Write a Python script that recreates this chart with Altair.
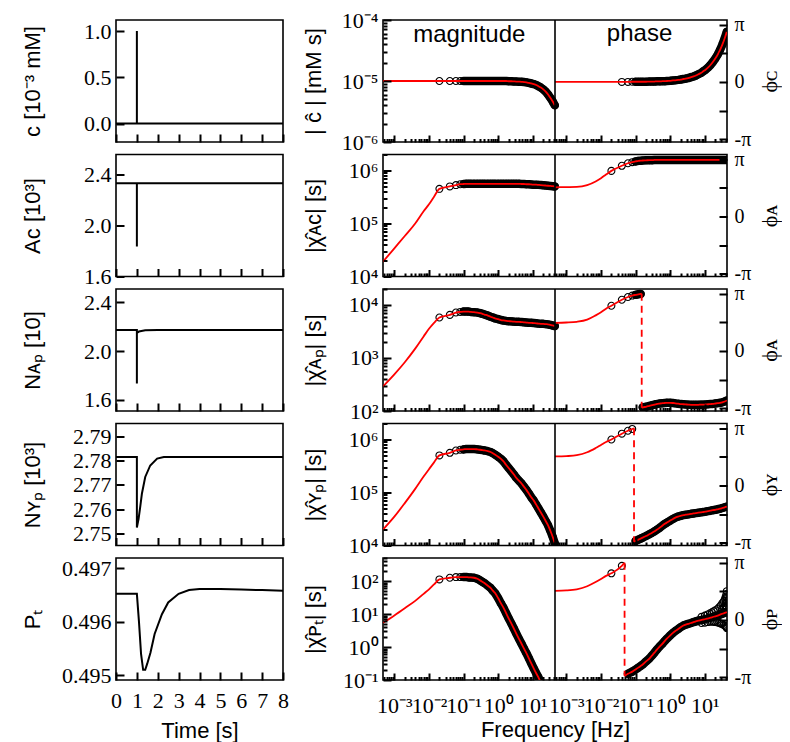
import math
import altair as alt
import pandas as pd

PI = math.pi

# ---------------- layout constants ----------------
W_T, W_F, H = 167, 344, 122
ROW_GAP = 12.5
F_MIN, F_MAX = 0.00047, 43.6
R = F_MAX / F_MIN          # shift that places the phase half right of the magnitude half
PH_DOM = [-3.3, 3.4]
BAND_FROM = 0.1            # above this frequency the sample circles merge into a band

# ---------------- time-domain data ----------------
T_C = [0, 1, 1, 1, 8]
V_C = [0.0, 0.0, 1.0, 0.0, 0.0]
T_AC = [0, 1, 1, 1, 8]
V_AC = [2.33, 2.33, 1.835, 2.33, 2.33]
T_NAP = [0, 1, 1, 1.0, 1.1, 1.4, 2.0, 8]
V_NAP = [2.173, 2.173, 1.733, 2.150, 2.160, 2.170, 2.173, 2.173]
T_NYP = [0, 1, 1, 1.08, 1.16, 1.24, 1.40, 1.64, 1.97, 2.29, 3, 8]
V_NYP = [2.7815, 2.7815, 2.7526, 2.756, 2.761, 2.7664, 2.7733, 2.778, 2.7808, 2.7815, 2.7815, 2.7815]
T_PT = [0, 1.0, 1.1, 1.2, 1.3, 1.4, 1.5, 1.65, 1.85, 2.2, 2.5, 3.0, 3.5, 4.0, 5, 6, 7, 8]
V_PT = [0.49652, 0.49652, 0.49600, 0.49540, 0.49510, 0.49510, 0.49522, 0.49542, 0.49577,
        0.49614, 0.49636, 0.49652, 0.49659, 0.49661, 0.49661, 0.49660, 0.49659, 0.49658]

TIME_TITLES = ["c  [10⁻³ mM]", "Aᴄ [10³]", "Nᴀₚ [10]", "Nʏₚ [10³]", "Pₜ"]
TIME_DOMAINS = [[-0.2, 1.12], [1.6, 2.555], [1.507, 2.51], [2.7452, 2.7952], [0.49491, 0.49719]]
TIME_YTICKS = [[0.0, 0.5, 1.0], [1.6, 2.0, 2.4], [1.6, 2.0, 2.4],
               [2.75, 2.76, 2.77, 2.78, 2.79], [0.495, 0.496, 0.497]]
TIME_FMT = [".1f", ".1f", ".1f", ".2f", ".3f"]
TIME_TICKS_X = [0, 1, 2, 3, 4, 5, 6, 7, 8]

# ---------------- frequency-domain data ----------------
F_LOW = [0.00047, 0.001, 0.002, 0.004, 0.007, 0.01, 0.014]
F_PTS = [0.02, 0.04, 0.06, 0.08, 0.1, 0.12, 0.14, 0.16, 0.2, 0.25, 0.3, 0.35, 0.4, 0.5,
         0.6, 0.7, 0.8, 1.0, 1.2, 1.4, 1.7, 2.0, 2.4, 2.8, 3.3, 4.0, 4.7, 5.5, 6.5, 7.7,
         9.0, 10.5, 12.5, 14.5, 17, 20, 23.5, 27.5, 32, 37.5, 43]

MAG_C_LOW = [1.0e-5, 1.0e-5, 1.0e-5, 1.0e-5, 1.0e-5, 1.0e-5, 1.0e-5]
MAG_C = [1.0e-5, 1.0e-5, 1.0e-5, 1.0e-5, 1.0e-5, 1.0e-5, 1.0e-5, 1.0e-5, 1.0e-5, 1.0e-5,
         1.0e-5, 1.0e-5, 1.0e-5, 1.0e-5, 1.0e-5, 1.0e-5, 1.0e-5, 1.0e-5, 1.0e-5, 1.0e-5,
         1.0e-5, 9.9e-6, 9.9e-6, 9.85e-6, 9.8e-6, 9.75e-6, 9.7e-6, 9.6e-6, 9.5e-6, 9.3e-6,
         9.1e-6, 8.9e-6, 8.6e-6, 8.2e-6, 7.8e-6, 7.3e-6, 6.7e-6, 6.0e-6, 5.3e-6, 4.6e-6, 4.0e-6]
PH_C_LOW = [0.0, 0.0, 0.0, 0.0, 0.0, 0.0, 0.0]
PH_C = [0.0, 0.0, 0.0, 0.01, 0.01, 0.01, 0.01, 0.01, 0.01, 0.02, 0.02, 0.02, 0.03, 0.03,
        0.04, 0.04, 0.05, 0.06, 0.08, 0.09, 0.11, 0.13, 0.16, 0.18, 0.21, 0.26, 0.30, 0.35,
        0.42, 0.49, 0.58, 0.67, 0.80, 0.93, 1.09, 1.28, 1.50, 1.76, 2.05, 2.40, 2.75]

MAG_AC_LOW = [1.9e4, 3.4e4, 5.8e4, 1.0e5, 1.7e5, 2.3e5, 3.2e5]
MAG_AC = [4.5e5, 5.0e5, 5.3e5, 5.5e5, 5.55e5, 5.6e5, 5.6e5, 5.6e5, 5.6e5, 5.6e5, 5.6e5,
          5.6e5, 5.6e5, 5.6e5, 5.6e5, 5.6e5, 5.6e5, 5.6e5, 5.6e5, 5.6e5, 5.6e5, 5.6e5,
          5.6e5, 5.6e5, 5.6e5, 5.6e5, 5.55e5, 5.55e5, 5.5e5, 5.5e5, 5.45e5, 5.4e5, 5.4e5,
          5.35e5, 5.3e5, 5.25e5, 5.2e5, 5.15e5, 5.1e5, 5.05e5, 5.0e5]
PH_AC_LOW = [1.60, 1.61, 1.62, 1.72, 1.92, 2.10, 2.30]
PH_AC = [2.50, 2.78, 2.92, 2.98, 3.02, 3.05, 3.06, 3.07, 3.08, 3.09, 3.09, 3.10, 3.10, 3.10,
         3.10, 3.10, 3.10, 3.10, 3.10, 3.10, 3.10, 3.10, 3.10, 3.10, 3.10, 3.10, 3.10, 3.10,
         3.10, 3.10, 3.10, 3.10, 3.10, 3.10, 3.10, 3.10, 3.10, 3.10, 3.10, 3.10, 3.10]

MAG_AP_LOW = [290, 490, 830, 1500, 2550, 3550, 4600]
MAG_AP = [5800, 6500, 7200, 7400, 7500, 7500, 7500, 7400, 7300, 7200, 7000, 6800, 6600, 6300,
          6000, 5800, 5600, 5400, 5200, 5100, 5000, 4950, 4900, 4850, 4800, 4800, 4750, 4700,
          4650, 4600, 4600, 4550, 4500, 4450, 4400, 4400, 4350, 4300, 4200, 4100, 4000]
PH_AP_LOW = [1.54, 1.56, 1.60, 1.72, 1.95, 2.12, 2.32]
PH_AP = [2.48, 2.81, 2.96, 3.04, 3.08, 3.11, 3.13, -3.10, -3.07, -3.02, -2.98, -2.95, -2.92,
         -2.89, -2.87, -2.86, -2.85, -2.85, -2.86, -2.88, -2.90, -2.92, -2.93, -2.94, -2.95,
         -2.96, -2.96, -2.96, -2.96, -2.95, -2.95, -2.94, -2.93, -2.92, -2.91, -2.89, -2.87,
         -2.85, -2.82, -2.78, -2.72]

MAG_YP_LOW = [2.0e4, 3.5e4, 6.3e4, 1.17e5, 2.0e5, 2.75e5, 3.7e5]
MAG_YP = [5.0e5, 5.6e5, 6.2e5, 6.4e5, 6.5e5, 6.6e5, 6.6e5, 6.6e5, 6.6e5, 6.5e5, 6.4e5, 6.3e5,
          6.2e5, 6.0e5, 5.8e5, 5.5e5, 5.2e5, 4.7e5, 4.3e5, 3.9e5, 3.3e5, 2.9e5, 2.5e5, 2.2e5,
          1.9e5, 1.66e5, 1.48e5, 1.29e5, 1.12e5, 9.5e4, 8.1e4, 7.1e4, 5.9e4, 5.0e4, 4.2e4,
          3.5e4, 2.9e4, 2.4e4, 1.9e4, 1.45e4, 1.1e4]
PH_YP_LOW = [1.59, 1.61, 1.66, 1.82, 2.05, 2.22, 2.38]
PH_YP = [2.52, 2.84, 3.00, 3.10, -3.05, -2.98, -2.92, -2.87, -2.78, -2.68, -2.60, -2.52,
         -2.45, -2.32, -2.20, -2.11, -2.04, -1.93, -1.84, -1.77, -1.71, -1.67, -1.63, -1.61,
         -1.59, -1.56, -1.54, -1.52, -1.50, -1.48, -1.46, -1.44, -1.41, -1.39, -1.36, -1.34,
         -1.31, -1.28, -1.24, -1.20, -1.17]

MAG_PT_LOW = [5.4, 9.1, 15, 25, 41, 56, 79]
MAG_PT = [112, 126, 132, 132, 132, 132, 129, 129, 126, 117, 105, 95, 87, 72, 62, 51, 44,
          30, 21, 16, 10.5, 7.4, 5.1, 3.7, 2.6, 1.74, 1.26, 0.91, 0.65, 0.45, 0.32, 0.23,
          0.16, 0.12, 0.083, 0.059, 0.042, 0.030, 0.022, 0.016, 0.012]
PH_PT_LOW = [1.60, 1.62, 1.68, 1.85, 2.08, 2.25, 2.42]
PH_PT = [2.56, 2.97, -2.96, -2.84, -2.72, -2.62, -2.53, -2.45, -2.28, -2.12, -1.95, -1.80,
         -1.66, -1.45, -1.30, -1.15, -1.03, -0.85, -0.71, -0.61, -0.50, -0.40, -0.31, -0.26,
         -0.22, -0.17, -0.12, -0.08, -0.04, -0.01, 0.02, 0.05, 0.09, 0.12, 0.16, 0.20, 0.24,
         0.29, 0.34, 0.39, 0.43]
PT_NOISE_F = [8, 8, 10, 10, 12, 12, 14, 14, 16, 16, 18, 18, 20, 20, 23, 23, 26, 26, 29, 29,
              32, 32, 32, 35, 35, 35, 38, 38, 38, 40, 40, 40, 40, 42, 42, 42, 42, 43, 43, 43,
              43, 43]
PT_NOISE_PH = [0.17, -0.17, 0.24, -0.15, 0.30, -0.12, 0.36, -0.10, 0.42, -0.10, 0.48, -0.10,
               0.53, -0.12, 0.60, -0.14, 0.70, -0.17, 0.80, -0.20, 0.92, 0.62, -0.24, 1.02,
               0.70, -0.28, 1.16, 0.80, -0.32, 1.28, 0.95, 0.65, -0.36, 1.42, 1.08, 0.75,
               -0.40, 1.58, 1.25, 0.95, 0.70, -0.45]

# phase wrap (frequency, phase just before, phase just after); None = no wrap
WRAPS = [None, None, (0.15, 3.14, -3.12), (0.09, 3.14, -3.10), (0.048, 3.14, -3.08)]
# index of the first phase sample drawn as a circle in each row
PH_FIRST = [1, 0, 0, 0, 0]

MAG_LOW = [MAG_C_LOW, MAG_AC_LOW, MAG_AP_LOW, MAG_YP_LOW, MAG_PT_LOW]
MAG = [MAG_C, MAG_AC, MAG_AP, MAG_YP, MAG_PT]
PH_LOW = [PH_C_LOW, PH_AC_LOW, PH_AP_LOW, PH_YP_LOW, PH_PT_LOW]
PH = [PH_C, PH_AC, PH_AP, PH_YP, PH_PT]
MAG_DOMAINS = [[1e-6, 1e-4], [1e4, 2e6], [1e2, 2e4], [1e4, 2e6], [0.1, 500]]
MAG_TITLES = ["| ĉ | [mM s]", "|χ̂ᴀᴄ| [s]", "|χ̂ᴀₚ| [s]", "|χ̂ʏₚ| [s]", "|χ̂ᴘₜ| [s]"]
PH_TITLES = ["ϕᴄ", "ϕᴀ", "ϕᴀ", "ϕʏ", "ϕᴘ"]
PH_TICKS = [-PI, -PI / 2, 0, PI / 2, PI]

NOTE_TEXT = ["magnitude", "phase"]
NOTE_F = [0.146, 0.13]
NOTE_V = [5.6e-5, 2.62]

# ---------------- axis helpers ----------------
SUP = "['⁻⁶','⁻⁵','⁻⁴','⁻³','⁻²','⁻¹','⁰','¹','²','³','⁴','⁵','⁶']"
LOG_LABEL = f"'10' + {SUP}[round(log(datum.value)/LN10) + 6]"
X_LABEL = (f"'10' + {SUP}[round(log(datum.value > {F_MAX * 1.001} ? datum.value / {R} : "
           f"datum.value)/LN10) + 6]")
PH_LABEL = ("abs(datum.value - PI) < 0.01 ? 'π' : (abs(datum.value + PI) < 0.01 ? '-π' : "
            "(abs(datum.value) < 0.01 ? '0' : ''))")


def log_values(lo, hi, major):
    out = []
    e = math.floor(math.log10(lo)) - 1
    while 10.0 ** e <= hi * 1.001:
        for m in range(1, 10):
            if (m == 1) != major:
                continue
            v = float(f"{m}e{e}")
            if lo * 0.999 <= v <= hi * 1.001:
                out.append(v)
        e += 1
    return out


X_MAJOR = log_values(F_MIN, F_MAX, True) + [v * R for v in log_values(F_MIN, F_MAX, True)]
X_MINOR = log_values(F_MIN, F_MAX, False) + [v * R for v in log_values(F_MIN, F_MAX, False)]


def inward(n):
    # ticks of length n drawn inside the frame: move the axis in by n, ticks point out to it
    return dict(offset=-n, tickSize=n, ticks=True, tickColor="black", tickWidth=2,
                tickOpacity=1, zindex=2)


def time_panel(k, bottom):
    df = pd.DataFrame({"t": [T_C, T_AC, T_NAP, T_NYP, T_PT][k],
                       "v": [V_C, V_AC, V_NAP, V_NYP, V_PT][k]})
    df["i"] = range(len(df))
    xkw = dict(values=TIME_TICKS_X, labels=bottom, format="d", labelPadding=10, **inward(8))
    if bottom:
        xkw.update(title="Time [s]", titleX=W_T / 2, titleY=58, titleBaseline="middle",
                   titleAlign="center")
    else:
        xkw["title"] = None
    yaxis = alt.Axis(values=TIME_YTICKS[k], format=TIME_FMT[k], title=TIME_TITLES[k],
                     titleX=-92, titleY=H / 2, titleBaseline="middle", titleAlign="center",
                     labelPadding=5, **inward(8))
    return alt.Chart(df).mark_line(color="black", strokeWidth=2, clip=True).encode(
        x=alt.X("t:Q", scale=alt.Scale(domain=[0, 8], nice=False, zero=False),
                axis=alt.Axis(**xkw)),
        y=alt.Y("v:Q", scale=alt.Scale(domain=TIME_DOMAINS[k], nice=False, zero=False),
                axis=yaxis),
        order="i:Q",
    ).properties(width=W_T, height=H)


def freq_panel(k, bottom):
    lo, hi = MAG_DOMAINS[k]
    xscale = alt.Scale(type="log", domain=[F_MIN, F_MAX * R], nice=False)
    mscale = alt.Scale(type="log", domain=[lo, hi], nice=False)
    pscale = alt.Scale(domain=PH_DOM, nice=False, zero=False)

    xkw = dict(orient="bottom", values=X_MAJOR, labels=bottom, labelPadding=15, **inward(7))
    if bottom:
        xkw.update(labelExpr=X_LABEL, title="Frequency [Hz]", titleY=56,
                   titleBaseline="middle")
    else:
        xkw["title"] = None
    x_major = alt.X("f:Q", scale=xscale, axis=alt.Axis(**xkw))
    x_minor = alt.X("f:Q", scale=xscale,
                    axis=alt.Axis(orient="bottom", values=X_MINOR, labels=False, title=None,
                                  **inward(3.5)))
    x_none = alt.X("f:Q", scale=xscale, axis=None)
    xp_none = alt.X("fx:Q", scale=xscale, axis=None)

    y_m = alt.Y("m:Q", scale=mscale,
                axis=alt.Axis(orient="left", values=log_values(lo, hi, True),
                              labelExpr=LOG_LABEL, title=MAG_TITLES[k], titleX=-78,
                              titleY=H / 2, titleBaseline="middle", titleAlign="center",
                              labelPadding=5, **inward(8)))
    y_m_minor = alt.Y("m:Q", scale=mscale,
                      axis=alt.Axis(orient="left", values=log_values(lo, hi, False),
                                    labels=False, title=None, **inward(4)))
    y_m_none = alt.Y("m:Q", scale=mscale, axis=None)
    y_p = alt.Y("p:Q", scale=pscale,
                axis=alt.Axis(orient="right", values=PH_TICKS, labelExpr=PH_LABEL,
                              title=PH_TITLES[k], titleAngle=270, titleBaseline="top",
                              titleAlign="center", titlePadding=9,
                              titleFont="Liberation Serif", titleFontSize=22,
                              labelFontSize=20, labelPadding=7, **inward(8)))
    y_p_none = alt.Y("p:Q", scale=pscale, axis=None)
    shift = f"datum.f * {R}"

    circle = dict(shape="circle", filled=False, color="black", size=48, strokeWidth=1.1,
                  opacity=1, clip=True)
    red = dict(color="#ff0000", strokeWidth=1.8, clip=True)
    band = dict(color="black", strokeWidth=8.5, strokeCap="round", strokeJoin="round",
                clip=True)

    # magnitude half
    m_line_df = pd.DataFrame({"f": F_LOW + F_PTS, "m": MAG_LOW[k] + MAG[k]})
    m_pts_df = pd.DataFrame({"f": F_PTS, "m": MAG[k]})
    m_band_df = m_pts_df[m_pts_df["f"] >= BAND_FROM]
    m_band = alt.Chart(m_band_df).mark_line(**band).encode(x=x_none, y=y_m_none)
    m_pts = alt.Chart(m_pts_df).mark_point(**circle).encode(x=x_major, y=y_m)
    m_line = alt.Chart(m_line_df).mark_line(interpolate="monotone", **red).encode(
        x=x_none, y=y_m_none)
    minor = alt.Chart(m_pts_df).mark_point(opacity=0).encode(x=x_minor, y=y_m_minor)

    # phase half
    wrap = WRAPS[k]

    def branch(f):
        return 0 if (wrap is None or f < wrap[0]) else 1

    rows = [(f, p, branch(f)) for f, p in zip(F_LOW + F_PTS, PH_LOW[k] + PH[k])]
    if wrap is not None:
        rows.append((wrap[0], wrap[1], 0))
        rows.append((wrap[0], wrap[2], 1))
    p_line_df = pd.DataFrame(rows, columns=["f", "p", "b"]).sort_values(["b", "f"])
    first = PH_FIRST[k]
    pts_f = list(F_PTS[first:])
    pts_p = list(PH[k][first:])
    p_band_df = pd.DataFrame({"f": pts_f, "p": pts_p})
    p_band_df["b"] = [branch(f) for f in pts_f]
    p_band_df = p_band_df[(p_band_df["f"] >= BAND_FROM) | (p_band_df["b"] == 1)]
    if k == 4:
        pts_f += PT_NOISE_F
        pts_p += PT_NOISE_PH
    p_pts_df = pd.DataFrame({"f": pts_f, "p": pts_p})
    p_band = alt.Chart(p_band_df).transform_calculate(fx=shift).mark_line(**band).encode(
        x=xp_none, y=y_p_none, detail="b:N")
    p_pts = alt.Chart(p_pts_df).transform_calculate(fx=shift).mark_point(**circle).encode(
        x=xp_none, y=y_p)
    p_line = alt.Chart(p_line_df).transform_calculate(fx=shift).mark_line(
        interpolate="monotone", **red).encode(x=xp_none, y=y_p_none, detail="b:N")

    divider = alt.Chart(pd.DataFrame({"f": [F_MAX]})).mark_rule(
        color="black", strokeWidth=1.6).encode(x=x_none)

    layers = [m_band, m_pts, m_line, minor, p_band, p_pts, p_line]
    if wrap is not None:
        dash_df = pd.DataFrame({"f": [wrap[0], wrap[0]], "p": [wrap[1], wrap[2]]})
        layers.append(alt.Chart(dash_df).transform_calculate(fx=shift).mark_line(
            strokeDash=[7, 5], **red).encode(x=xp_none, y=y_p_none))
    layers.append(divider)
    if k == 0:
        n1 = pd.DataFrame({"f": NOTE_F[:1], "m": NOTE_V[:1], "txt": NOTE_TEXT[:1]})
        n2 = pd.DataFrame({"f": NOTE_F[1:], "p": NOTE_V[1:], "txt": NOTE_TEXT[1:]})
        txt = dict(font="Liberation Sans", fontSize=24, color="black")
        layers.append(alt.Chart(n1).mark_text(**txt).encode(x=x_none, y=y_m_none,
                                                            text="txt:N"))
        layers.append(alt.Chart(n2).transform_calculate(fx=shift).mark_text(**txt).encode(
            x=xp_none, y=y_p_none, text="txt:N"))
    return alt.layer(*layers).resolve_scale(y="independent").resolve_axis(
        x="independent", y="independent").properties(width=W_F, height=H)


cells = []
for k in range(5):
    cells.append(time_panel(k, k == 4))
    cells.append(freq_panel(k, k == 4))

chart = alt.concat(*cells, columns=2, spacing={"row": ROW_GAP, "column": 100},
                   bounds="flush").properties(
    padding={"left": 12, "top": 0, "right": 0, "bottom": 0}
).configure_view(
    stroke="black", strokeWidth=1.6
).configure_axis(
    domain=False, grid=False, ticks=True, tickColor="black", tickWidth=2,
    labelFont="Liberation Serif", labelFontSize=22, labelColor="black",
    titleFont="Liberation Sans", titleFontSize=22, titleFontWeight="normal",
    titleColor="black", labelFlush=False, labelOverlap=False
)

chart.save("out.html", embed_options={"renderer": "svg", "actions": False})
